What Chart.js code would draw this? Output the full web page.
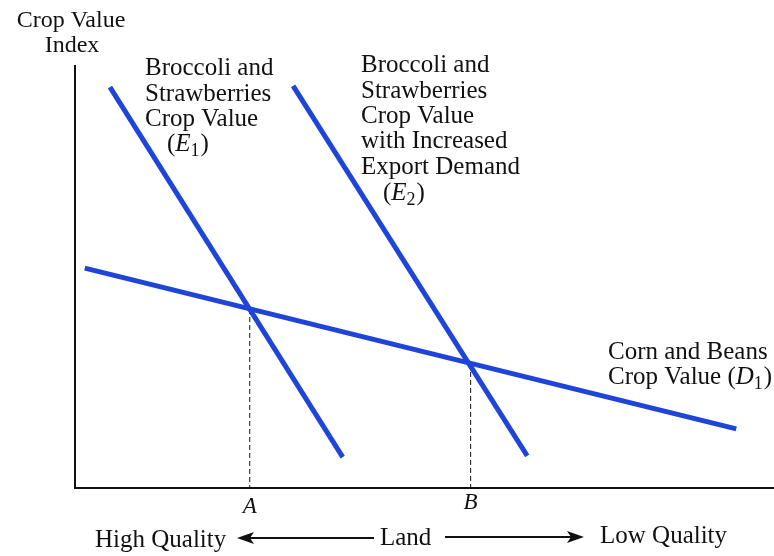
<!DOCTYPE html>
<html>
<head>
<meta charset="utf-8">
<script src="https://cdn.jsdelivr.net/npm/chart.js@4.4.1/dist/chart.umd.min.js"></script>
<style>
  html, body { margin: 0; padding: 0; background: #fff; }
  #wrap { width: 774px; height: 556px; }
</style>
</head>
<body>
<div id="wrap"><canvas id="landChart"></canvas></div>
<script>
// curve end points (land quantity 0-100, value index 0-100)
const e1Curve = [{ x: 5.0, y: 95.0 }, { x: 38.3, y: 7.3 }];
const e2Curve = [{ x: 31.2, y: 95.3 }, { x: 64.7, y: 7.6 }];
const d1Curve = [{ x: 1.4, y: 52.1 }, { x: 94.6, y: 14.0 }];
// equilibrium points
const pointA = { x: 25.0, y: 42.4 };
const pointB = { x: 56.6, y: 29.4 };

const blue = "#1f45d8";
const serif = "'Liberation Serif', 'DejaVu Serif', serif";
const fs = 25;

const dropA = [pointA, { x: pointA.x, y: 0 }];
const dropB = [pointB, { x: pointB.x, y: 0 }];

// text + arrows
const labelsPlugin = {
  id: "labels",
  afterDraw(chart) {
    const ctx = chart.ctx;
    ctx.save();
    ctx.fillStyle = "#111";
    ctx.textBaseline = "alphabetic";

    const line = (txt, x, y, size = fs) => {
      ctx.font = `${size}px ${serif}`;
      ctx.textAlign = "left";
      ctx.fillText(txt, x, y);
    };
    // (E1) style label with italic letter and subscript
    const sub = (pre, letter, idx, post, x, y, size = fs) => {
      ctx.textAlign = "left";
      ctx.font = `${size}px ${serif}`;
      ctx.fillText(pre, x, y);
      x += ctx.measureText(pre).width;
      ctx.font = `italic ${size}px ${serif}`;
      ctx.fillText(letter, x, y);
      x += ctx.measureText(letter).width;
      ctx.font = `${Math.round(size * 0.7)}px ${serif}`;
      ctx.fillText(idx, x, y + 5);
      x += ctx.measureText(idx).width + 1;
      ctx.font = `${size}px ${serif}`;
      ctx.fillText(post, x, y);
    };

    // y axis title
    ctx.font = `24px ${serif}`;
    ctx.textAlign = "center";
    ctx.fillText("Crop Value", 71, 27);
    ctx.fillText("Index", 72, 52);

    // E1
    line("Broccoli and", 145, 75);
    line("Strawberries", 145, 101);
    line("Crop Value", 145, 126);
    sub("(", "E", "1", ")", 167, 151);

    // E2
    line("Broccoli and", 361, 72);
    line("Strawberries", 361, 98);
    line("Crop Value", 361, 123);
    line("with Increased", 361, 148);
    line("Export Demand", 361, 174);
    sub("(", "E", "2", ")", 383, 200);

    // D1
    line("Corn and Beans", 608, 359);
    sub("Crop Value (", "D", "1", ")", 608, 384);

    // A, B
    const xs = chart.scales.x;
    ctx.font = `italic 23px ${serif}`;
    ctx.textAlign = "center";
    ctx.fillText("A", xs.getPixelForValue(pointA.x), 513);
    ctx.fillText("B", xs.getPixelForValue(pointB.x), 509);

    // bottom caption
    ctx.font = `25px ${serif}`;
    ctx.textAlign = "left";
    ctx.fillText("High Quality", 95, 547);
    ctx.fillText("Land", 380, 545);
    ctx.fillText("Low Quality", 600, 543);

    ctx.strokeStyle = "#111";
    ctx.lineWidth = 2;
    ctx.beginPath();
    ctx.moveTo(246, 538); ctx.lineTo(374, 538);
    ctx.moveTo(445, 537); ctx.lineTo(574, 537);
    ctx.stroke();
    ctx.beginPath();
    ctx.moveTo(237, 538); ctx.lineTo(254, 532); ctx.lineTo(250, 538); ctx.lineTo(254, 544); ctx.closePath();
    ctx.moveTo(584, 537); ctx.lineTo(567, 531); ctx.lineTo(571, 537); ctx.lineTo(567, 543); ctx.closePath();
    ctx.fill();
    ctx.restore();
  }
};

new Chart(document.getElementById("landChart"), {
  type: "line",
  data: {
    datasets: [
      { label: "E1", data: e1Curve, borderColor: blue, borderWidth: 5, pointRadius: 0, borderCapStyle: "butt" },
      { label: "E2", data: e2Curve, borderColor: blue, borderWidth: 5, pointRadius: 0, borderCapStyle: "butt" },
      { label: "D1", data: d1Curve, borderColor: blue, borderWidth: 5, pointRadius: 0, borderCapStyle: "butt" },
      { label: "A", data: dropA, borderColor: "#111", borderWidth: 1, borderDash: [5, 3], pointRadius: 0 },
      { label: "B", data: dropB, borderColor: "#111", borderWidth: 1, borderDash: [5, 3], pointRadius: 0 }
    ]
  },
  options: {
    responsive: true,
    maintainAspectRatio: false,
    animation: false,
    layout: { padding: { left: 67, right: 0, top: 66, bottom: 60 } },
    scales: {
      x: {
        type: "linear", min: 0, max: 100,
        ticks: { display: false },
        grid: { display: false },
        border: { display: true, color: "#111", width: 2 }
      },
      y: {
        type: "linear", min: 0, max: 100,
        ticks: { display: false },
        grid: { display: false },
        border: { display: true, color: "#111", width: 2 }
      }
    },
    plugins: {
      legend: { display: false },
      tooltip: { enabled: false }
    }
  },
  plugins: [labelsPlugin]
});
</script>
</body>
</html>
